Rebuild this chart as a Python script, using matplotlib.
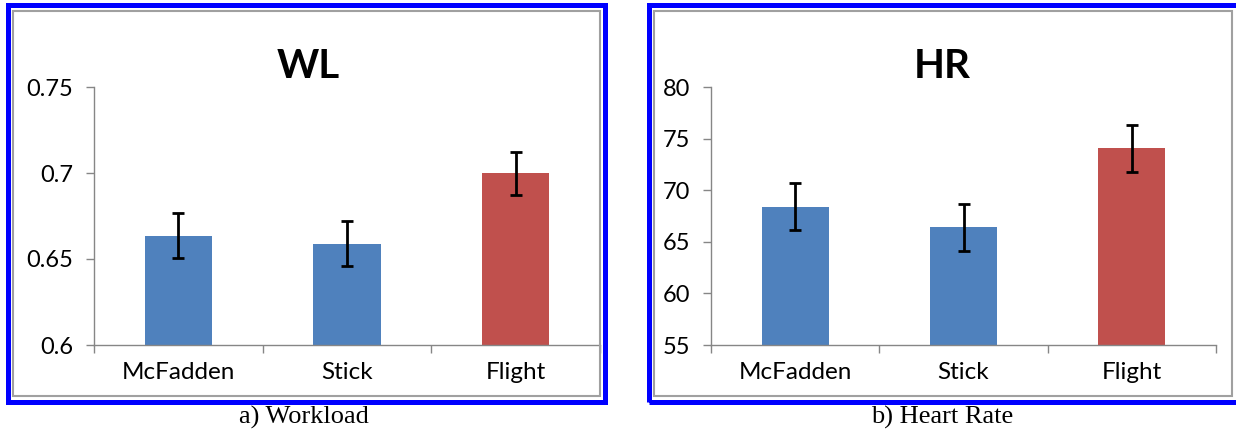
import numpy as np
import matplotlib
matplotlib.use("Agg")
import matplotlib.pyplot as plt
from matplotlib.patches import Rectangle

categories = ["McFadden", "Stick", "Flight"]

wl_means = [0.6635, 0.659, 0.700]
wl_err = [0.013, 0.013, 0.0125]
wl_ticks = [0.6, 0.65, 0.7, 0.75]
wl_ticklabels = ["0.6", "0.65", "0.7", "0.75"]

hr_means = [68.4, 66.4, 74.05]
hr_err = [2.25, 2.3, 2.25]
hr_ticks = [55, 60, 65, 70, 75, 80]
hr_ticklabels = ["55", "60", "65", "70", "75", "80"]

bar_colors = ["#4F81BD", "#4F81BD", "#C0504D"]
axis_gray = "#868686"
font = "Lato"

W, H = 1236, 429
fig = plt.figure(figsize=(W / 100, H / 100), dpi=100)


def px(x0, y0, x1, y1):
    # pixel box (top-left origin) -> figure fraction rect
    return [x0 / W, 1 - y1 / H, (x1 - x0) / W, (y1 - y0) / H]


def panel(box, frame, inner, title, title_x, means, err, ticks, ticklabels, ylim, caption, cap_x):
    # blue outer frame and gray inner frame
    fx0, fy0, fx1, fy1 = frame
    fig.patches.append(Rectangle((fx0 / W, 1 - fy1 / H), (fx1 - fx0) / W, (fy1 - fy0) / H,
                                 transform=fig.transFigure, fill=False,
                                 edgecolor="#0000FF", linewidth=3.6, zorder=0))
    ix0, iy0, ix1, iy1 = inner
    fig.patches.append(Rectangle((ix0 / W, 1 - iy1 / H), (ix1 - ix0) / W, (iy1 - iy0) / H,
                                 transform=fig.transFigure, fill=False,
                                 edgecolor="#A0A0A0", linewidth=1.5, zorder=0))

    ax = fig.add_axes(px(*box))
    x = np.arange(len(categories))
    ax.bar(x, means, width=0.4, color=bar_colors, zorder=2)
    ax.errorbar(x, means, yerr=err, fmt="none", ecolor="black",
                elinewidth=2, capsize=4.5, capthick=2, zorder=3)
    ax.set_xlim(-0.5, 2.5)
    ax.set_ylim(*ylim)
    ax.set_yticks(ticks)
    ax.set_yticklabels(ticklabels, fontsize=17, family=font)
    ax.set_xticks(x)
    ax.set_xticklabels(categories, fontsize=17.5, family=font)
    ax.set_xticks([-0.5, 0.5, 1.5, 2.5], minor=True)
    ax.tick_params(axis="x", which="major", length=0, pad=12)
    ax.tick_params(axis="x", which="minor", length=6, color=axis_gray, width=1)
    ax.tick_params(axis="y", length=6, color=axis_gray, width=1, pad=9)
    for s in ["top", "right"]:
        ax.spines[s].set_visible(False)
    for s in ["left", "bottom"]:
        ax.spines[s].set_color(axis_gray)
        ax.spines[s].set_linewidth(1)
    ax.patch.set_alpha(0)

    fig.text(title_x / W, 1 - 67 / H, title, ha="center", va="center",
             fontsize=29, fontweight="bold", family=font)
    fig.text(cap_x / W, 1 - 424 / H, caption, ha="center", va="baseline",
             fontsize=19, family="Liberation Serif", zorder=5)


panel((94, 87, 600, 345), (8, 5, 605, 402), (13, 11, 600, 396),
      "WL", 308, wl_means, wl_err, wl_ticks, wl_ticklabels, (0.6, 0.75),
      "a) Workload", 304)
panel((711, 87, 1216, 345), (649, 5, 1240, 402), (654, 11, 1232, 396),
      "HR", 942, hr_means, hr_err, hr_ticks, hr_ticklabels, (55, 80),
      "b) Heart Rate", 942)

plt.savefig("out.png", dpi=100)
